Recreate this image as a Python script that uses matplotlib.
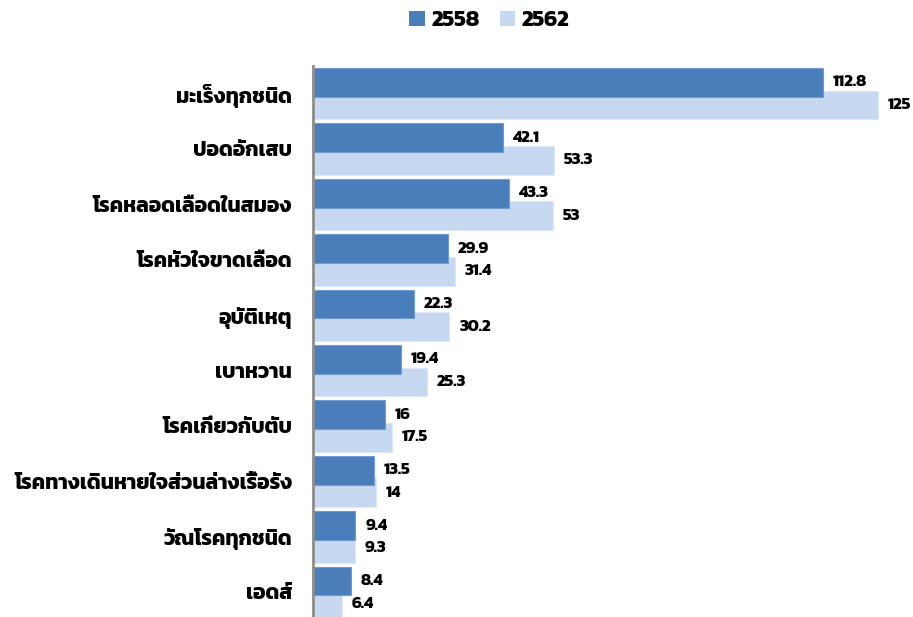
"""Horizontal grouped bar chart: leading causes of death, 2558 vs 2562."""

import numpy as np
import matplotlib
matplotlib.use("Agg")
import matplotlib.pyplot as plt
from matplotlib.patches import Patch

FONT = ["Kanit", "DejaVu Sans"]

causes = [
    "มะเร็งทุกชนิด",
    "ปอดอักเสบ",
    "โรคหลอดเลือดในสมอง",
    "โรคหัวใจขาดเลือด",
    "อุบัติเหตุ",
    "เบาหวาน",
    "โรคเกี่ยวกับตับ",
    "โรคทางเดินหายใจส่วนล่างเรื้อรัง",
    "วัณโรคทุกชนิด",
    "เอดส์",
]
years = ["2558", "2562"]
rate_2558 = [112.8, 42.1, 43.3, 29.9, 22.3, 19.4, 16, 13.5, 9.4, 8.4]
rate_2562 = [125, 53.3, 53, 31.4, 30.2, 25.3, 17.5, 14, 9.3, 6.4]

DARK = "#4a7ebb"
LIGHT = "#c6d9f0"


def fmt(v):
    return f"{v:g}"


def main():
    plt.rcParams["font.family"] = FONT
    fig = plt.figure(figsize=(9.13, 6.17), dpi=100)
    ax = fig.add_axes([0.3428, -0.0049, 0.6436, 0.8979])

    y = np.arange(len(causes))
    h = 0.52
    off = 0.205
    # light bars first so the dark bars overlap them slightly
    ax.barh(y + off, rate_2562, height=h, color=LIGHT,
            edgecolor="#dce8f6", linewidth=0.8, zorder=2)
    ax.barh(y - off, rate_2558, height=h, color=DARK,
            edgecolor="#6f9bd2", linewidth=0.8, zorder=3)

    for yi, v in zip(y, rate_2558):
        ax.annotate(fmt(v), (v, yi - off), xytext=(7, 0),
                    textcoords="offset points", va="center", ha="left",
                    fontsize=12, fontweight="bold", annotation_clip=False)
    for yi, v in zip(y, rate_2562):
        ax.annotate(fmt(v), (v, yi + off), xytext=(7, 0),
                    textcoords="offset points", va="center", ha="left",
                    fontsize=12, fontweight="bold", annotation_clip=False)

    ax.set_xlim(0, 130)
    ax.set_ylim(len(causes) - 0.5, -0.5)
    ax.set_yticks(y)
    ax.set_yticklabels(causes, fontsize=15, fontweight="bold")
    ax.tick_params(axis="y", length=0, pad=15)
    ax.set_xticks([])
    for side in ["top", "right", "bottom"]:
        ax.spines[side].set_visible(False)
    ax.spines["left"].set_color("#8c8c8c")
    ax.spines["left"].set_linewidth(2)
    ax.spines["left"].set_zorder(4)

    handles = [Patch(facecolor=DARK), Patch(facecolor=LIGHT)]
    fig.legend(handles, years, loc="upper center", bbox_to_anchor=(0.536, 1.015),
               ncol=2, frameon=False, handlelength=0.7, handleheight=0.7,
               handletextpad=0.3, columnspacing=0.9,
               prop={"family": FONT, "size": 16, "weight": "bold"})

    fig.savefig("out.png", dpi=100)
    plt.close(fig)


if __name__ == "__main__":
    main()
